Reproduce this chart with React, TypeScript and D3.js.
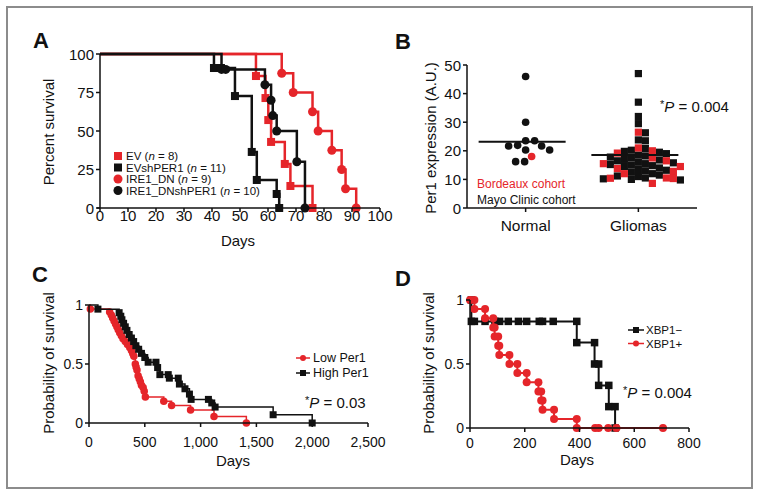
import React from 'react';
import * as d3 from 'd3';

const FONT = '"Liberation Sans", Arial, Helvetica, sans-serif';
const RED = '#e5252a';
const BLACK = '#111111';

// ---------- Panel A data ----------
const aTicksX = [0, 10, 20, 30, 40, 50, 60, 70, 80, 90, 100];
const aTicksY = [0, 25, 50, 75, 100];
const evDays = [55.7, 59.1, 60.1, 61.1, 66, 68, 75.9];
const evSurv = [85.7, 71.4, 57.1, 42.9, 28.6, 14.3, 0];
const evShDays = [40.7, 43.2, 48.2, 54.2, 56, 63.1, 64];
const evShSurv = [90.9, 90.9, 72.7, 36.4, 18.2, 9.1, 0];
const ireDays = [64.9, 69, 75.9, 77.9, 82.8, 86.3, 87.7, 91.5];
const ireSurv = [87.5, 75, 62.5, 50, 37.5, 25, 12.5, 0];
const ireShDays = [43.4, 44.9, 58.9, 61.1, 61.7, 63.1, 70.3, 73.2];
const ireShSurv = [90, 90, 80, 70, 60, 50, 30, 0];
const aLegend = [
  { name: 'EV', n: 8 },
  { name: 'EVshPER1', n: 11 },
  { name: 'IRE1_DN', n: 9 },
  { name: 'IRE1_DNshPER1', n: 10 },
];

// ---------- Panel B data ----------
const bGroups = ['Normal', 'Gliomas'];
const bTicksY = [0, 10, 20, 30, 40, 50];
const normalMayo = [46, 30, 23.5, 23.5, 21.7, 20.3, 20.3, 21.7, 21.9, 16.2, 16.2];
const normalBordeaux = [18];
const gliomaMayo = [47, 37, 32, 29.5, 26.3, 23.8, 23.5,
  20.8, 20.2, 19.8, 19.5, 19, 18.5, 18.2, 17.8, 17.5, 17, 16.8, 16.5, 16, 15.8, 15.5, 15.2, 15,
  14.8, 14.5, 14, 13.5, 13.2, 13, 12.5, 12, 11.5, 11.2, 11, 10.5, 10.2, 10, 9.8];
const gliomaBordeaux = [26.5, 21, 20, 19.2, 17.5, 16.5, 15.5, 14.5, 13.8, 12.8, 12, 10.5, 10.3,
  10.4, 8.6];
const bMeans = [23.2, 18.5];

// ---------- Panel C data ----------
const cTicksX = [0, 500, 1000, 1500, 2000, 2500];
const cTicksY = [0, 0.5, 1];
const lowDays = [12, 185, 200, 212, 225, 238, 250, 262, 275, 290, 305, 325, 345, 365, 380, 392,
  402, 415, 422, 430, 440, 450, 460, 470, 485, 495, 505, 670, 740, 910, 1120, 1410];
const lowSurv = [0.967, 0.94, 0.915, 0.89, 0.865, 0.84, 0.815, 0.79, 0.765, 0.74, 0.715, 0.69,
  0.665, 0.64, 0.615, 0.59, 0.565, 0.5, 0.475, 0.45, 0.4, 0.375, 0.35, 0.32, 0.3, 0.27, 0.22,
  0.185, 0.148, 0.11, 0.055, 0];
const highDays = [80, 270, 285, 295, 310, 325, 340, 360, 380, 400, 420, 445, 470, 500, 530, 600,
  615, 635, 710, 720, 800, 810, 860, 900, 915, 1070, 1100, 1130, 1650, 2000];
const highSurv = [0.965, 0.935, 0.905, 0.875, 0.845, 0.815, 0.785, 0.75, 0.72, 0.69, 0.655, 0.625,
  0.59, 0.555, 0.515, 0.515, 0.47, 0.41, 0.41, 0.38, 0.38, 0.33, 0.29, 0.245, 0.2, 0.2, 0.17,
  0.135, 0.07, 0];

// ---------- Panel D data ----------
const dTicksX = [0, 200, 400, 600, 800];
const dTicksY = [0, 0.5, 1];
const xbpPlusDays = [16, 55, 85, 90, 103, 107, 144, 173, 207, 250, 260, 265, 307, 390, 457, 470,
  505, 535, 705];
const xbpPlusSurv = [0.929, 0.857, 0.786, 0.714, 0.643, 0.571, 0.5, 0.429, 0.357, 0.286, 0.214,
  0.143, 0.071, 0, 0, 0, 0, 0, 0];
const xbpMinusDays = [5, 16, 55, 91, 108, 140, 177, 207, 253, 265, 304, 390, 455, 470, 507, 530];
const xbpMinusSurv = [0.833, 0.833, 0.833, 0.833, 0.833, 0.833, 0.833, 0.833, 0.833, 0.833, 0.833,
  0.667, 0.5, 0.333, 0.167, 0];

type Scale = d3.ScaleLinear<number, number>;

function stepPath(x: Scale, y: Scale, days: number[], surv: number[], start: number) {
  const pts: [number, number][] = [[0, start], ...days.map((d, i) => [d, surv[i]] as [number, number])];
  return d3.line<[number, number]>().x(p => x(p[0])).y(p => y(p[1])).curve(d3.curveStepAfter)(pts) || '';
}

function Marker({ shape, x, y, size, fill }: { shape: string; x: number; y: number; size: number; fill: string }) {
  if (shape === 'square') return <rect x={x - size / 2} y={y - size / 2} width={size} height={size} fill={fill} />;
  return <circle cx={x} cy={y} r={size / 2} fill={fill} />;
}

function KM({ x, y, days, surv, start, color, shape, size, width, corners }: any) {
  const marks: [number, number][] = [];
  let prev = start;
  days.forEach((d: number, i: number) => {
    if (corners && surv[i] !== prev) marks.push([d, prev]);
    marks.push([d, surv[i]]);
    prev = surv[i];
  });
  return (
    <g>
      <path d={stepPath(x, y, days, surv, start)} fill="none" stroke={color} strokeWidth={width} />
      {marks.map((m, i) => (
        <Marker key={i} shape={shape} x={x(m[0])} y={y(m[1])} size={size} fill={color} />
      ))}
    </g>
  );
}

function AxisLeft({ y, x0, ticks, fmt, fs, len = 4 }: any) {
  const [r0, r1] = y.range();
  return (
    <g>
      <line x1={x0} x2={x0} y1={r0} y2={r1} stroke={BLACK} strokeWidth={1.5} />
      {ticks.map((t: number) => (
        <g key={t}>
          <line x1={x0 - len} x2={x0} y1={y(t)} y2={y(t)} stroke={BLACK} strokeWidth={1.5} />
          <text x={x0 - len - 2} y={y(t)} textAnchor="end" dominantBaseline="central" fontSize={fs}>{fmt(t)}</text>
        </g>
      ))}
    </g>
  );
}

function AxisBottom({ x, y0, ticks, fmt, fs, labelY, len = 4, extendLeft = 0 }: any) {
  const [r0, r1] = x.range();
  return (
    <g>
      <line x1={r0 - extendLeft} x2={r1} y1={y0} y2={y0} stroke={BLACK} strokeWidth={1.5} />
      {ticks.map((t: number) => (
        <g key={t}>
          <line x1={x(t)} x2={x(t)} y1={y0} y2={y0 + len} stroke={BLACK} strokeWidth={1.5} />
          <text x={x(t)} y={labelY} textAnchor="middle" fontSize={fs}>{fmt(t)}</text>
        </g>
      ))}
    </g>
  );
}

function swarm(vals: number[], y: Scale, D: number, square: boolean): number[] {
  const idx = vals.map((_, i) => i).sort((a, b) => vals[b] - vals[a]);
  const placed: { x: number; y: number }[] = [];
  const out: number[] = new Array(vals.length).fill(0);
  idx.forEach(i => {
    const py = y(vals[i]);
    for (let k = 0; k < 400; k++) {
      const off = k === 0 ? 0 : (k % 2 === 1 ? (k + 1) / 2 : -k / 2);
      const hit = placed.some(p => {
        const dx = Math.abs(p.x - off), dy = Math.abs(p.y - py);
        return square ? dx < D && dy < D : dx * dx + dy * dy < D * D;
      });
      if (!hit) { placed.push({ x: off, y: py }); out[i] = off; break; }
    }
  });
  return out;
}

function PValue({ x, y, value }: { x: number; y: number; value: string }) {
  return (
    <text x={x} y={y} fontSize={15}>
      <tspan fontSize={11} dy={-4}>*</tspan>
      <tspan fontStyle="italic" dy={4}>P</tspan>
      <tspan>{` = ${value}`}</tspan>
    </text>
  );
}

export default function App() {
  // Panel A
  const xA = d3.scaleLinear([0, 100], [100, 380]);
  const yA = d3.scaleLinear([0, 100], [208, 54]);
  // Panel B
  const yB = d3.scaleLinear([0, 50], [208, 65]);
  const xB = d3.scalePoint<string>().domain(bGroups).range([467, 697]).padding(0.52);
  const normAll = [...normalMayo.map(v => ({ v, c: BLACK })), ...normalBordeaux.map(v => ({ v, c: RED }))];
  const gliAll = [...gliomaMayo.map(v => ({ v, c: BLACK })), ...gliomaBordeaux.map(v => ({ v, c: RED }))];
  const normOff = swarm(normAll.map(d => d.v), yB, 8.6, false);
  const gliOff = swarm(gliAll.map(d => d.v), yB, 6.9, true);
  // Panel C
  const xC = d3.scaleLinear([0, 2500], [89, 368]);
  const yC = d3.scaleLinear([0, 1], [423, 305]);
  // Panel D
  const xD = d3.scaleLinear([0, 800], [470, 689]);
  const yD = d3.scaleLinear([0, 1], [428, 300]);

  const fmtC = (t: number) => d3.format(',')(t);
  const legendShapes = [
    { shape: 'square', color: RED },
    { shape: 'square', color: BLACK },
    { shape: 'circle', color: RED },
    { shape: 'circle', color: BLACK },
  ];
  const legY = [156, 167.5, 179, 190.5];

  return (
    <svg width={760} height={503} style={{ position: 'absolute', left: 0, top: 0, background: '#fff' }}
      fontFamily={FONT} fill={BLACK}>
      <rect x={7} y={7} width={745} height={481} fill="#fff" stroke="#8c8c8c" strokeWidth={2} />

      {/* Panel letters */}
      <text x={33} y={48} fontSize={22} fontWeight="bold">A</text>
      <text x={395} y={49} fontSize={22} fontWeight="bold">B</text>
      <text x={32} y={282} fontSize={22} fontWeight="bold">C</text>
      <text x={395} y={286} fontSize={22} fontWeight="bold">D</text>

      {/* ---------- Panel A ---------- */}
      <g>
        <KM x={xA} y={yA} days={evDays} surv={evSurv} start={100} color={RED} shape="square" size={8} width={2.5} />
        <KM x={xA} y={yA} days={ireDays} surv={ireSurv} start={100} color={RED} shape="circle" size={9} width={2.5} />
        <KM x={xA} y={yA} days={evShDays} surv={evShSurv} start={100} color={BLACK} shape="square" size={8} width={2.5} />
        <KM x={xA} y={yA} days={ireShDays} surv={ireShSurv} start={100} color={BLACK} shape="circle" size={9} width={2.5} />
        <AxisLeft y={yA} x0={xA(0)} ticks={aTicksY} fmt={(t: number) => `${t}`} fs={15} />
        <AxisBottom x={xA} y0={yA(0)} ticks={aTicksX} fmt={(t: number) => `${t}`} fs={15} labelY={221} extendLeft={3} />
        <text x={238} y={246} textAnchor="middle" fontSize={15}>Days</text>
        <text transform="translate(48,132) rotate(-90)" textAnchor="middle" dominantBaseline="central" fontSize={15}>Percent survival</text>
        {aLegend.map((l, i) => (
          <g key={l.name}>
            <Marker shape={legendShapes[i].shape} x={118} y={legY[i]} size={legendShapes[i].shape === 'square' ? 8 : 9} fill={legendShapes[i].color} />
            <text x={126} y={legY[i]} dominantBaseline="central" fontSize={11.5}>
              {`${l.name} (`}<tspan fontStyle="italic">n</tspan>{` = ${l.n})`}
            </text>
          </g>
        ))}
      </g>

      {/* ---------- Panel B ---------- */}
      <g>
        {normAll.map((d, i) => (
          <circle key={i} cx={(xB('Normal') as number) + normOff[i]} cy={yB(d.v)} r={3.8} fill={d.c} />
        ))}
        {gliAll.map((d, i) => (
          <rect key={i} x={(xB('Gliomas') as number) + gliOff[i] - 3.6} y={yB(d.v) - 3.6} width={7.2} height={7.2} fill={d.c} />
        ))}
        {bGroups.map((g, i) => (
          <line key={g} x1={(xB(g) as number) - 47} x2={(xB(g) as number) + 40} y1={yB(bMeans[i])} y2={yB(bMeans[i])}
            stroke={BLACK} strokeWidth={2} />
        ))}
        <AxisLeft y={yB} x0={467} ticks={bTicksY} fmt={(t: number) => `${t}`} fs={15} />
        <line x1={467} x2={697} y1={208} y2={208} stroke={BLACK} strokeWidth={1.5} />
        {bGroups.map(g => (
          <g key={g}>
            <line x1={xB(g) as number} x2={xB(g) as number} y1={208} y2={212} stroke={BLACK} strokeWidth={1.5} />
            <text x={xB(g) as number} y={231} textAnchor="middle" fontSize={15.5}>{g}</text>
          </g>
        ))}
        <text transform="translate(430,138) rotate(-90)" textAnchor="middle" dominantBaseline="central" fontSize={15}>Per1 expression (A.U.)</text>
        <text x={477} y={188} fontSize={12} fill={RED}>Bordeaux cohort</text>
        <text x={477} y={204} fontSize={12}>Mayo Clinic cohort</text>
        <PValue x={660} y={112} value="0.004" />
      </g>

      {/* ---------- Panel C ---------- */}
      <g>
        <KM x={xC} y={yC} days={lowDays} surv={lowSurv} start={1} color={RED} shape="circle" size={7.5} width={1.5} />
        <KM x={xC} y={yC} days={highDays} surv={highSurv} start={1} color={BLACK} shape="square" size={7} width={1.5} />
        <AxisLeft y={yC} x0={89} ticks={cTicksY} fmt={(t: number) => `${t}`} fs={14} />
        <AxisBottom x={xC} y0={423} ticks={cTicksX} fmt={fmtC} fs={14} labelY={446.5} />
        <text x={233} y={466} textAnchor="middle" fontSize={15}>Days</text>
        <text transform="translate(48,363) rotate(-90)" textAnchor="middle" dominantBaseline="central" fontSize={15}>Probability of survival</text>
        <line x1={296} x2={310} y1={358} y2={358} stroke={RED} strokeWidth={1.5} />
        <circle cx={303} cy={358} r={3} fill={RED} />
        <text x={313} y={358} dominantBaseline="central" fontSize={12.5}>Low Per1</text>
        <line x1={296} x2={310} y1={373} y2={373} stroke={BLACK} strokeWidth={1.5} />
        <rect x={300} y={370} width={6} height={6} fill={BLACK} />
        <text x={313} y={373} dominantBaseline="central" fontSize={12.5}>High Per1</text>
        <PValue x={305} y={408} value="0.03" />
      </g>

      {/* ---------- Panel D ---------- */}
      <g>
        <KM x={xD} y={yD} days={xbpMinusDays} surv={xbpMinusSurv} start={1} color={BLACK} shape="square" size={7.5} width={2} corners />
        <KM x={xD} y={yD} days={xbpPlusDays} surv={xbpPlusSurv} start={1} color={RED} shape="circle" size={8} width={2} corners />
        <circle cx={xD(0)} cy={yD(1)} r={4} fill={RED} />
        <AxisLeft y={yD} x0={470} ticks={dTicksY} fmt={(t: number) => `${t}`} fs={14} />
        <AxisBottom x={xD} y0={428} ticks={dTicksX} fmt={(t: number) => `${t}`} fs={14} labelY={448} />
        <text x={577} y={465} textAnchor="middle" fontSize={15}>Days</text>
        <text transform="translate(428,363) rotate(-90)" textAnchor="middle" dominantBaseline="central" fontSize={15}>Probability of survival</text>
        <line x1={628} x2={644} y1={330} y2={330} stroke={BLACK} strokeWidth={1.5} />
        <rect x={633} y={327} width={6} height={6} fill={BLACK} />
        <text x={646} y={330} dominantBaseline="central" fontSize={11.5}>XBP1−</text>
        <line x1={628} x2={644} y1={343.5} y2={343.5} stroke={RED} strokeWidth={1.5} />
        <circle cx={636} cy={343.5} r={3} fill={RED} />
        <text x={646} y={343.5} dominantBaseline="central" fontSize={11.5}>XBP1+</text>
        <PValue x={623} y={398} value="0.004" />
      </g>
    </svg>
  );
}
